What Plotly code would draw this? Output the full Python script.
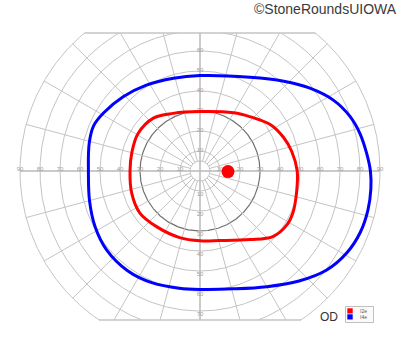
import numpy as np
import plotly.graph_objects as go

# ---- data ----
ring_ecc = [5, 10, 20, 30, 40, 50, 60, 70, 80, 90]
label_ecc = [10, 20, 30, 40, 50, 60, 70, 80, 90]
vert_label_top = [10, 20, 30, 40, 50, 60, 70]
vert_label_bottom = [10, 20, 30, 40, 50, 60, 70]
meridian_deg = list(range(0, 360, 15))
dark_ring = 30
outer_ring = 90
clip_top, clip_bottom = 69.0, -74.5

# isopter I4e (blue): meridian angle (deg) and eccentricity (deg)
i4e_theta = [0, 6, 13, 20, 28, 37, 47, 62, 90, 106, 122, 136, 149, 157, 166, 180,
             195, 208, 220, 234, 247, 260, 270, 286, 300, 312, 322, 331, 339, 347, 354]
i4e_ecc = [85.2, 83.8, 82.2, 79.8, 75.5, 68.8, 61.4, 53.1, 47.7, 48.2, 50.6, 53.4, 56.3, 57.8, 57.1, 55.8,
           57.2, 59.4, 61.1, 61.6, 60.8, 59.5, 59.2, 61.3, 66.8, 74.0, 80.4, 84.1, 85.8, 86.2, 85.9]

# isopter I2e (red)
i2e_theta = [0, 12, 22, 33, 47, 60, 90, 115, 131, 149, 165, 180, 198, 215, 232, 253, 270,
             286, 306, 318, 328, 336, 348]
i2e_ecc = [48.6, 46.9, 45.0, 42.3, 37.0, 33.6, 29.7, 31.8, 35.2, 36.2, 35.3, 35.0, 35.9, 36.7, 35.3, 34.8, 34.9,
           36.2, 42.4, 49.0, 51.1, 50.9, 49.4]

blind_spot = (14.0, -0.3)
legend_names = ["I2e", "I4e"]
legend_colors = ["#ff0000", "#0000ff"]
eye_label = "OD"
credit = "\u00a9StoneRoundsUIOWA"

# ---- layout geometry ----
W, H = 400, 352
ML, MR, MT, MB = 18, 18, 33, 32
XR = [-91, 91]
YR = [clip_bottom, clip_top]


def px_x(px):
    return (px - ML) / (W - ML - MR)


def px_y(py):
    return (H - MB - py) / (H - MT - MB)


def data_to_paper_x(x):
    return (x - XR[0]) / (XR[1] - XR[0])


def data_to_paper_y(y):
    return (y - YR[0]) / (YR[1] - YR[0])


def polar_xy(theta_deg, ecc):
    t = np.radians(np.asarray(theta_deg, dtype=float))
    r = np.asarray(ecc, dtype=float)
    return r * np.cos(t), r * np.sin(t)


fig = go.Figure()
GRID = "#c4c4c4"

# rings
phi = np.linspace(0, 360, 721)
for e in ring_ecc:
    x, y = polar_xy(phi, np.full_like(phi, e))
    fig.add_trace(go.Scatter(x=x, y=y, mode="lines", hoverinfo="skip", showlegend=False,
                             line=dict(color="#707070" if e == dark_ring else GRID,
                                       width=1.2 if e == dark_ring else 1)))

# meridians
for a in meridian_deg:
    r0 = 0 if a % 90 == 0 else ring_ecc[0]
    x, y = polar_xy([a, a], [r0, outer_ring])
    fig.add_trace(go.Scatter(x=x, y=y, mode="lines", hoverinfo="skip", showlegend=False,
                             line=dict(color="#b8b8b8" if a % 90 == 0 else GRID,
                                       width=1.5 if a % 90 == 0 else 1)))

# ring labels
lab_x, lab_y, lab_t = [], [], []
for e in label_ecc:
    for s in (-1, 1):
        lab_x.append(s * e)
        lab_y.append(1.0)
        lab_t.append(str(e))
for e in vert_label_top:
    lab_x.append(0)
    lab_y.append(e + 0.5)
    lab_t.append(str(e))
for e in vert_label_bottom:
    lab_x.append(0)
    lab_y.append(-(e + 1.5))
    lab_t.append(str(e))
fig.add_trace(go.Scatter(x=lab_x, y=lab_y, text=lab_t, mode="text", hoverinfo="skip",
                         showlegend=False, cliponaxis=False,
                         textfont=dict(size=6, color="#a0a0a0", family="Liberation Sans")))

# isopters
for th, ec, col in [(i4e_theta, i4e_ecc, "#0000ff"), (i2e_theta, i2e_ecc, "#ff0000")]:
    x, y = polar_xy(th + [th[0]], ec + [ec[0]])
    fig.add_trace(go.Scatter(x=x, y=y, mode="lines", hoverinfo="skip", showlegend=False,
                             line=dict(color=col, width=3, shape="spline", smoothing=1.0)))

# blind spot
fig.add_trace(go.Scatter(x=[blind_spot[0]], y=[blind_spot[1]], mode="markers", showlegend=False,
                         marker=dict(color="#ff0000", size=13, line=dict(width=0))))

# frame chords at top and bottom
shapes = []
for yc in (clip_top, clip_bottom):
    half = np.sqrt(outer_ring ** 2 - yc ** 2)
    shapes.append(dict(type="line", xref="paper", yref="paper",
                       x0=data_to_paper_x(-half), x1=data_to_paper_x(half),
                       y0=data_to_paper_y(yc), y1=data_to_paper_y(yc),
                       line=dict(color=GRID, width=1.5)))

# legend box
shapes.append(dict(type="rect", xref="paper", yref="paper",
                   x0=px_x(345.5), x1=px_x(373.5), y0=px_y(322.5), y1=px_y(306.5),
                   line=dict(color="#c0c0c0", width=1), fillcolor="#fafafa"))
annotations = []
for i, (nm, col) in enumerate(zip(legend_names, legend_colors)):
    top = 308.3 + i * 6.0
    shapes.append(dict(type="rect", xref="paper", yref="paper",
                       x0=px_x(347.3), x1=px_x(352.7), y0=px_y(top + 5.2), y1=px_y(top),
                       line=dict(width=0), fillcolor=col))
    annotations.append(dict(text=nm, xref="paper", yref="paper", x=px_x(357.5), y=px_y(top + 2.6),
                            xanchor="left", yanchor="middle", showarrow=False,
                            font=dict(size=5, color="#555", family="Liberation Sans")))

annotations.append(dict(text=eye_label, xref="paper", yref="paper", x=px_x(329), y=px_y(317),
                        xanchor="center", yanchor="middle", showarrow=False,
                        font=dict(size=12, color="#333", family="Liberation Sans")))
annotations.append(dict(text=credit, xref="paper", yref="paper", x=px_x(398.5), y=px_y(9.5),
                        xanchor="right", yanchor="middle", showarrow=False,
                        font=dict(size=14, color="#3a3a3a", family="Liberation Sans")))

fig.update_layout(
    width=W, height=H,
    margin=dict(l=ML, r=MR, t=MT, b=MB, pad=0),
    paper_bgcolor="white", plot_bgcolor="white",
    xaxis=dict(range=XR, visible=False, fixedrange=True),
    yaxis=dict(range=YR, visible=False, fixedrange=True),
    shapes=shapes, annotations=annotations,
    showlegend=False,
)

fig.write_html("out.html")
